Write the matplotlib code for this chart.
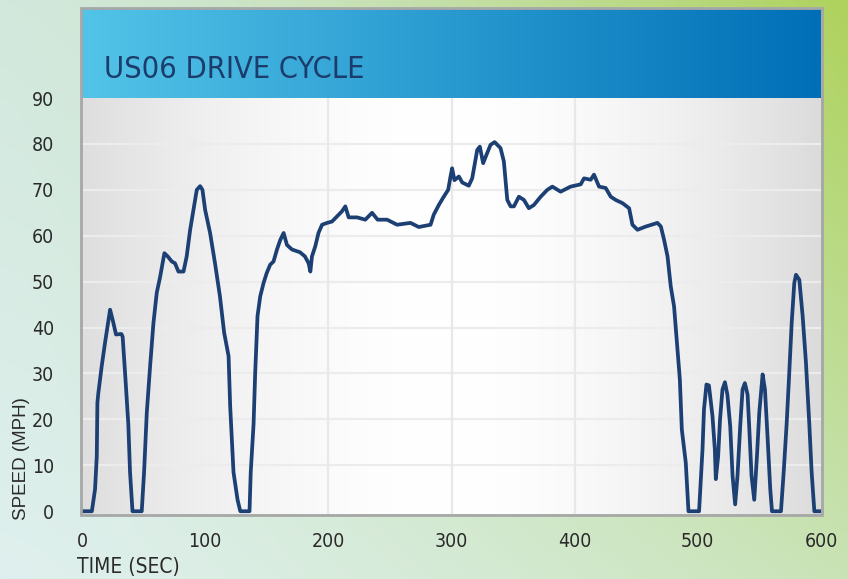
import numpy as np
import matplotlib
matplotlib.use("Agg")
import matplotlib.pyplot as plt
from matplotlib.patches import Rectangle
from matplotlib.colors import to_rgb

# US06 speed trace (time in s, speed in mph)
time_s = [0, 8, 10.6, 12, 12.5, 13.2, 16, 18.7, 22.8, 25.5, 27.6, 32, 33, 35, 37.6, 39, 41,
          48.5, 50.4, 52.6, 55.3, 58, 60.7, 63.4, 66.9, 69.6, 72.9, 75.5, 78.3, 82.4, 85,
          87.8, 90.5, 93.2, 95.9, 97.8, 100, 104, 108, 112, 115.4, 119, 120.3, 123, 126.3,
          128.5, 136, 137, 139.3, 140.6, 142.5, 144.7, 147.4, 150, 152.8, 155.5, 158.3, 161,
          163.7, 166.4, 170.5, 177, 181, 184, 185.4, 186.7, 189.4, 192, 194.9, 199, 203, 207,
          211, 213.8, 216.5, 223.3, 230, 235.5, 240, 247.7, 255.8, 266.7, 273.4, 283, 285.6,
          289.7, 293.7, 297.3, 299.2, 300.5, 302.4, 306, 308.7, 314, 316.8, 320.9, 323, 325.7,
          328.5, 331.7, 335, 339.8, 342.5, 345.3, 348, 350.7, 354.7, 358.8, 362.8, 366.9,
          372.4, 377.8, 381.9, 388.6, 396.7, 404.9, 407.6, 413, 415.7, 419.8, 425.2, 429.3,
          433.3, 438.8, 444.2, 446.9, 451, 457.7, 467.2, 470, 472.6, 475.4, 478, 480.7, 483.5,
          485.4, 487, 490.2, 492.4, 501, 503.8, 505, 507, 509, 511.9, 513.8, 514.6, 516.5,
          518, 520, 522, 524, 526.3, 528.2, 530.3, 532.2, 534.4, 536.3, 538.2, 540.4, 541.7,
          543.6, 545.8, 548, 549.9, 552.6, 554.5, 556.7, 558.8, 560.2, 567.5, 569.7, 572.1,
          574.2, 576.2, 578.3, 579.7, 582.4, 585.1, 587.8, 590.5, 592.4, 594.6, 600]
speed_mph = [0, 0, 4.8, 12, 23.6, 25.6, 31.6, 36.7, 43.9, 41, 38.5, 38.6, 38, 30, 19, 8.5, 0,
             0, 8.5, 21.5, 31.6, 41, 47.6, 51, 56.2, 55.5, 54.4, 54, 52.2, 52.2, 55.5,
             61.3, 65.6, 70, 70.8, 70, 65.6, 60.6, 54, 46.8, 38.9, 33.8, 22.9, 8.5, 2.5,
             0, 0, 8.5, 19, 30, 42.5, 46.8, 49.7, 51.9, 53.7, 54.4, 57, 59.1,
             60.6, 58, 57, 56.4, 55.5, 54, 52.2, 55.5, 57.7, 60.6, 62.4, 62.8, 63.1, 64.2,
             65.3, 66.4, 64, 64, 63.5, 65, 63.5, 63.5, 62.4, 62.8, 61.9, 62.4, 64.6,
             66.7, 68.5, 70, 72.9, 74.7, 72.1, 72.9, 71.6, 70.9, 72.5, 78.7, 79.4, 75.8,
             77.7, 79.8, 80.4, 79.1, 76.2, 67.8, 66.4, 66.4, 68.5, 67.8, 66, 66.7,
             68.5, 70, 70.7, 69.6, 70.7, 71.2, 72.5, 72.2, 73.3, 70.7, 70.4, 68.5,
             67.8, 67.1, 66, 62.4, 61.3, 62, 62.8, 62, 59.1, 55.5, 49, 44.6, 35.2,
             28.7, 17.8, 10.6, 0, 0, 13.5, 22.2, 27.6, 27.4, 20.7, 13.5, 7, 12,
             19.9, 26.5, 28.1, 25.4, 18.5, 7.7, 1.5, 7.7, 18.5, 26.5, 27.9, 25.4, 18.5,
             7.7, 2.5, 12, 21.5, 29.8, 26.5, 15.7, 4.8, 0, 0, 8.5, 19,
             30, 41, 49.7, 51.5, 50.4, 42.5, 32.3, 19, 8.5, 0, 0]

x_ticks = [0, 100, 200, 300, 400, 500, 600]
y_ticks = [0, 10, 20, 30, 40, 50, 60, 70, 80, 90]
x_grid = [200, 300, 400]

W, H = 848, 579
cond = dict(family='DejaVu Sans', stretch='condensed')

fig = plt.figure(figsize=(W / 100, H / 100), dpi=100)


def mix(c1, c2, t):
    a, b = np.array(to_rgb(c1)), np.array(to_rgb(c2))
    return a[None, None, :] * (1 - t[..., None]) + b[None, None, :] * t[..., None]


# page background: soft teal to green
gx, gy = np.meshgrid(np.linspace(0, 1, 200), np.linspace(0, 1, 150))
top = mix('#d2e8dc', '#aed25c', gx ** 1.4)
bot = mix('#dff0ee', '#c9e3b6', gx ** 1.3)
bg_img = top * (1 - gy[..., None]) + bot * gy[..., None]
bg = fig.add_axes([0, 0, 1, 1], zorder=-10)
bg.imshow(bg_img, extent=[0, 1, 0, 1], aspect='auto', interpolation='bilinear')
bg.axis('off')

# title bar
tax = fig.add_axes([82 / W, 1 - 98 / H, 739 / W, 89 / H])
tx = np.linspace(0, 1, 300)[None, :]
tax.imshow(mix('#52c4e8', '#006fb7', tx), extent=[0, 1, 0, 1], aspect='auto')
tax.axis('off')
tax.text((104 - 82) / 739, (98 - 78) / 89, 'US06 DRIVE CYCLE', fontsize=22,
         color='#1c3c6c', va='baseline', ha='left', **cond)

# main plot, gray at the sides and white in the middle
ax = fig.add_axes([82 / W, 1 - 514 / H, 739 / W, 416 / H])
px = np.linspace(0, 1, 400)
shade = 1 - 0.14 * (np.abs(px - 0.49) / 0.51) ** 1.8
shade = np.repeat(shade[None, :, None], 3, axis=2)
ax.imshow(shade, extent=[0, 1, 0, 1], transform=ax.transAxes, aspect='auto', zorder=0)

for yv in y_ticks[1:-1]:
    ax.axhline(yv, color='#ececec', lw=1.6, zorder=1)
for xv in x_grid:
    ax.axvline(xv, color='#e8e8e8', lw=1.6, zorder=1)

ax.plot(time_s, speed_mph, color='#1c3f74', lw=2.7, zorder=3, solid_joinstyle='round')

ax.set_xlim(0, 600)
ax.set_ylim(-0.6, 90)
ax.set_xticks(x_ticks)
ax.set_yticks(y_ticks)
ax.tick_params(length=0, labelsize=14, labelcolor='#2a2a2a')
ax.tick_params(axis='y', pad=20)
ax.tick_params(axis='x', pad=13)
for lab in ax.get_xticklabels() + ax.get_yticklabels():
    lab.set_fontstretch('condensed')
for s in ax.spines.values():
    s.set_visible(False)

# gray frame round title bar and plot
fig.add_artist(Rectangle((81 / W, 1 - 514.5 / H), 741 / W, 506.5 / H,
                         transform=fig.transFigure, fill=False, ec='#a7a7a7', lw=2, zorder=5))

fig.text(22 / W, 1 - 459 / H, 'SPEED (MPH)', rotation=90, ha='center', va='center',
         fontsize=13.5, color='#2a2a2a', family='Liberation Sans')
fig.text(77 / W, 1 - 567 / H, 'TIME (SEC)', ha='left', va='center',
         fontsize=15, color='#2a2a2a', **cond)

fig.savefig('out.png', dpi=100)
